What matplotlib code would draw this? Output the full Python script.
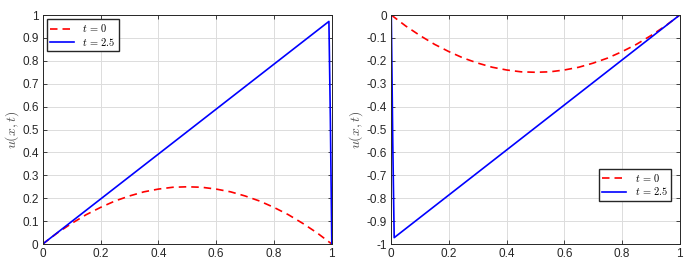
import matplotlib
matplotlib.use("Agg")
import matplotlib.pyplot as plt

plt.rcParams['font.family'] = ['Liberation Sans', 'DejaVu Sans']
plt.rcParams['mathtext.fontset'] = 'cm'

# initial condition t = 0
x0 = [0, 0.05, 0.1, 0.15, 0.2, 0.25, 0.3, 0.35, 0.4, 0.45, 0.5,
      0.55, 0.6, 0.65, 0.7, 0.75, 0.8, 0.85, 0.9, 0.95, 1.0]
u0_left = [0, 0.048, 0.09, 0.128, 0.16, 0.188, 0.21, 0.228, 0.24, 0.248, 0.25,
           0.248, 0.24, 0.228, 0.21, 0.188, 0.16, 0.128, 0.09, 0.048, 0]
u0_right = [-v for v in u0_left]

# solution at t = 2.5
x_left = [0, 0.99, 0.995, 1.0]
u_left = [0, 0.972, 0.55, 0]
x_right = [0, 0.005, 0.01, 1.0]
u_right = [0, -0.55, -0.972, 0]

labels = ['$t\\,=\\,0$', '$t\\,=\\,2.5$']

fig = plt.figure(figsize=(7, 2.73), dpi=100)
ax1 = fig.add_axes([0.061, 0.106, 0.413, 0.839])
ax2 = fig.add_axes([0.559, 0.106, 0.412, 0.839])


def style(ax):
    ax.set_xlim(0, 1)
    ax.set_xticks([0, 0.2, 0.4, 0.6, 0.8, 1])
    ax.set_xticklabels(['0', '0.2', '0.4', '0.6', '0.8', '1'])
    ax.grid(True, color='#dcdcdc', linewidth=0.7)
    ax.set_axisbelow(True)
    ax.tick_params(direction='in', top=True, right=True, labelsize=8.5,
                   length=3, width=0.6, colors='#262626', pad=3)
    for s in ax.spines.values():
        s.set_color('#262626')
        s.set_linewidth(0.7)
    ax.set_ylabel('$u(x,t)$', fontsize=10, color='#505050', labelpad=1)


ax1.plot(x0, u0_left, color='red', linestyle=(0, (4.5, 3)), linewidth=1.2, label=labels[0])
ax1.plot(x_left, u_left, color='blue', linewidth=1.2, label=labels[1])
style(ax1)
ax1.set_ylim(0, 1)
yt = [i / 10 for i in range(11)]
ax1.set_yticks(yt)
ax1.set_yticklabels(['0'] + ['%.1f' % v for v in yt[1:-1]] + ['1'])
ax1.legend(loc='upper left', fontsize=7.5, fancybox=False, edgecolor='#262626',
           framealpha=1, borderpad=0.3, handlelength=2.3, labelspacing=0.15,
           borderaxespad=0.4)

ax2.plot(x0, u0_right, color='red', linestyle=(0, (4.5, 3)), linewidth=1.2, label=labels[0])
ax2.plot(x_right, u_right, color='blue', linewidth=1.2, label=labels[1])
style(ax2)
ax2.set_ylim(-1, 0)
yt2 = [-i / 10 for i in range(10, -1, -1)]
ax2.set_yticks(yt2)
ax2.set_yticklabels(['-1'] + ['%.1f' % v for v in yt2[1:-1]] + ['0'])
ax2.legend(loc='lower right', bbox_to_anchor=(0.97, 0.19), fontsize=7.5, fancybox=False,
           edgecolor='#262626', framealpha=1, borderpad=0.3, handlelength=2.3,
           labelspacing=0.15, borderaxespad=0)

fig.savefig('out.png', dpi=100)
